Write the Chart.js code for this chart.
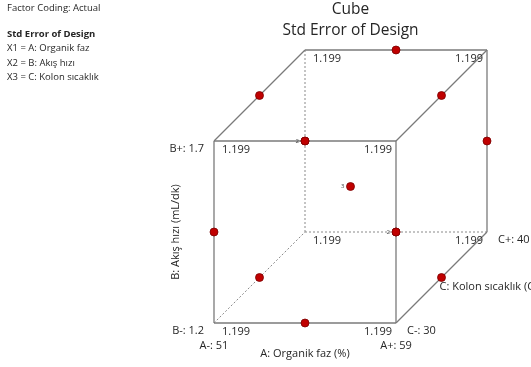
<!DOCTYPE html>
<html>
<head>
<meta charset="utf-8">
<script src="https://cdn.jsdelivr.net/npm/chart.js@4/dist/chart.umd.min.js"></script>
<style>
html,body{margin:0;padding:0;background:#fff;}
canvas{display:block;}
</style>
</head>
<body>
<canvas id="c" width="531" height="367"></canvas>
<script>
// ---- data ----
const titleLines = ['Cube', 'Std Error of Design'];
const infoLines = ['Factor Coding: Actual', '', 'Std Error of Design', 'X1 = A: Organik faz', 'X2 = B: Akış hızı', 'X3 = C: Kolon sıcaklık'];
const factorLetters = ['A', 'B', 'C'];
const factorTitles = ['A: Organik faz (%)', 'B: Akış hızı (mL/dk)', 'C: Kolon sıcaklık (C)'];
const lowLevels = ['51', '1.2', '30'];
const highLevels = ['59', '1.7', '40'];
// cube corners in coded units (A, B, C) and their std error values
const cornerCodes = [[-1,-1,-1],[1,-1,-1],[-1,1,-1],[1,1,-1],[-1,-1,1],[1,-1,1],[-1,1,1],[1,1,1]];
const cornerValues = [1.199, 1.199, 1.199, 1.199, 1.199, 1.199, 1.199, 1.199];
// design points (Box-Behnken, coded units)
const designPoints = [
  [0,1,1],[-1,1,0],[1,1,0],[0,1,-1],[-1,0,1],[1,0,1],
  [0,0,0],[-1,0,-1],[1,0,-1],[0,-1,1],[-1,-1,0],[0,-1,-1],[1,-1,0]
];
const centerRuns = 3;

// ---- projection (oblique cube view) ----
const DEPTH = 0.5;
function proj(p){ return {x: p[0] + DEPTH*(p[2]+1), y: p[1] + DEPTH*(p[2]+1)}; }

// edges of the cube: corners differing in exactly one coordinate
const hiddenCorner = [-1,-1,1];
const edgeSets = [];
for (let i=0;i<cornerCodes.length;i++){
  for (let j=i+1;j<cornerCodes.length;j++){
    const a=cornerCodes[i], b=cornerCodes[j];
    let diff=0; for(let k=0;k<3;k++) if(a[k]!==b[k]) diff++;
    if(diff===1){
      const hidden = [a,b].some(c=>c[0]===hiddenCorner[0]&&c[1]===hiddenCorner[1]&&c[2]===hiddenCorner[2]);
      edgeSets.push({pts:[proj(a),proj(b)], hidden});
    }
  }
}

const datasets = edgeSets.map(e=>({
  data: e.pts, showLine: true, pointRadius: 0, borderColor: e.hidden ? '#8a8a8a' : '#7a7a7a',
  borderWidth: e.hidden ? 1 : 1.3, borderDash: e.hidden ? [2,2] : [], order: 2, fill:false
}));
const projected = designPoints.map(proj);
datasets.push({
  data: projected, showLine:false, pointRadius: 4, pointHoverRadius:4,
  pointBackgroundColor:'#c00000', pointBorderColor:'#7a0000', pointBorderWidth:0.8, order:0
});

// pixel mapping: 91 px per coded unit; front lower-left corner at (214,323)
const PX = 91, W = 531, H = 367;
const xMin = -1 - 214/PX, xMax = xMin + W/PX;
const yMax = -1 + 323/PX, yMin = yMax - H/PX;

const FONT = '"Open Sans", "Noto Sans", sans-serif';
const textPlugin = {
  id:'texts',
  beforeDraw(chart){
    const ctx=chart.ctx; ctx.save(); ctx.fillStyle='#fff'; ctx.fillRect(0,0,chart.width,chart.height); ctx.restore();
  },
  afterDatasetsDraw(chart){
    const ctx = chart.ctx, sx = chart.scales.x, sy = chart.scales.y;
    const P = p => { const q = proj(p); return [sx.getPixelForValue(q.x), sy.getPixelForValue(q.y)]; };
    ctx.save();
    ctx.fillStyle = '#262626';
    ctx.textBaseline = 'middle';
    // titles
    ctx.textAlign = 'center';
    ctx.font = '15.5px ' + FONT;
    const cx = (P([-1,0,-1])[0] + P([1,0,1])[0]) / 2;
    ctx.fillText(titleLines[0], cx, 10);
    ctx.fillText(titleLines[1], cx, 31);
    // info panel
    ctx.textAlign = 'left';
    infoLines.forEach((t,i)=>{
      if(!t) return;
      ctx.font = (i===2 ? 'bold ' : '') + '9.5px ' + FONT;
      ctx.fillText(t, 7, i===0 ? 8 : 5 + i*14.5);
    });
    // corner values
    ctx.font = '11px ' + FONT;
    cornerCodes.forEach((c,i)=>{
      const [x,y] = P(c);
      if (c[0] < 0){ ctx.textAlign='left'; ctx.fillText(cornerValues[i].toFixed(3), x+8, y+9); }
      else { ctx.textAlign='right'; ctx.fillText(cornerValues[i].toFixed(3), x-4, y+9); }
    });
    // factor levels
    let [x,y] = P([-1,1,-1]);
    ctx.textAlign='right'; ctx.fillText(factorLetters[1]+'+: '+highLevels[1], x-10, y+8);
    [x,y] = P([-1,-1,-1]);
    ctx.fillText(factorLetters[1]+'-: '+lowLevels[1], x-10, y+8);
    ctx.textAlign='center'; ctx.fillText(factorLetters[0]+'-: '+lowLevels[0], x, y+23);
    [x,y] = P([1,-1,-1]);
    ctx.fillText(factorLetters[0]+'+: '+highLevels[0], x, y+23);
    ctx.textAlign='left'; ctx.fillText(factorLetters[2]+'-: '+lowLevels[2], x+11, y+8);
    [x,y] = P([1,-1,1]);
    ctx.fillText(factorLetters[2]+'+: '+highLevels[2], x+11, y+8);
    // axis titles
    [x,y] = P([0,-1,-1]);
    ctx.textAlign='center'; ctx.fillText(factorTitles[0], x, y+31);
    [x,y] = P([1,-1,0]);
    ctx.textAlign='left'; ctx.fillText(factorTitles[2], x-2, y+9);
    [x,y] = P([-1,0,-1]);
    ctx.save(); ctx.translate(x-38, y); ctx.rotate(-Math.PI/2);
    ctx.textAlign='center'; ctx.fillText(factorTitles[1], 0, 0); ctx.restore();
    // replicate counts
    ctx.font = '6px ' + FONT; ctx.fillStyle='#444'; ctx.textAlign='right';
    const seen = {};
    projected.forEach((q,i)=>{
      const key = q.x.toFixed(3)+','+q.y.toFixed(3);
      seen[key] = (seen[key]||0) + 1;
    });
    projected.forEach((q,i)=>{
      const key = q.x.toFixed(3)+','+q.y.toFixed(3);
      const dp = designPoints[i];
      let n = seen[key];
      if (dp[0]===0 && dp[1]===0 && dp[2]===0) n = centerRuns;
      if (n > 1){
        ctx.fillText(String(n), sx.getPixelForValue(q.x)-6, sy.getPixelForValue(q.y));
        seen[key] = 0;
      }
    });
    ctx.restore();
  }
};

new Chart(document.getElementById('c'), {
  type:'scatter',
  data:{datasets},
  options:{
    responsive:false, animation:false, devicePixelRatio:1,
    layout:{padding:0, autoPadding:false},
    plugins:{legend:{display:false}, tooltip:{enabled:false}, title:{display:false}},
    scales:{
      x:{type:'linear', min:xMin, max:xMax, display:false},
      y:{type:'linear', min:yMin, max:yMax, display:false}
    },
    elements:{line:{tension:0}},
    clip:false
  },
  plugins:[textPlugin]
});
</script>
</body>
</html>
